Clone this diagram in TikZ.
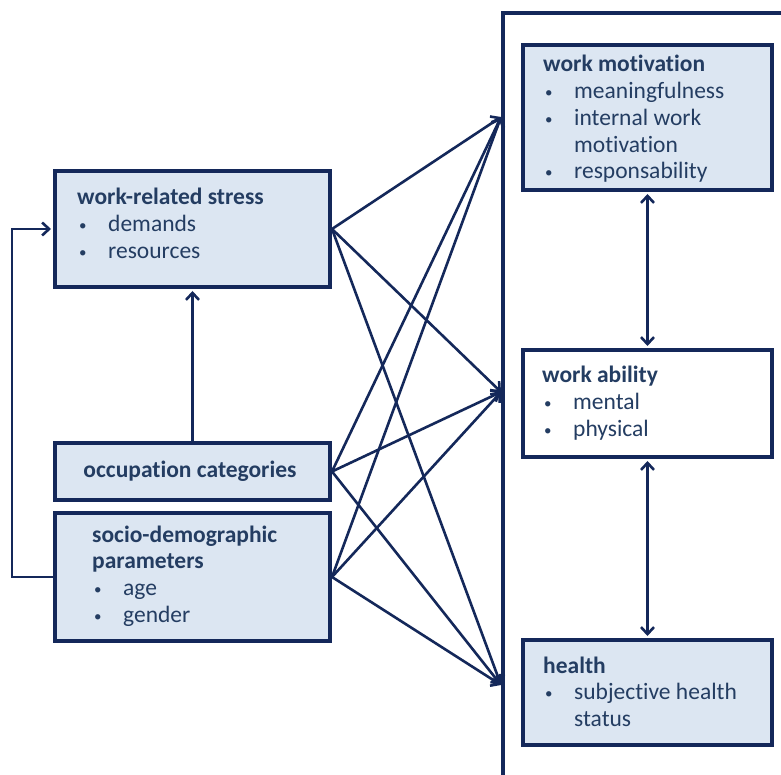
\documentclass[tikz,border=0pt]{standalone}
\usepackage{fontspec}
\setmainfont{Carlito}[Ligatures={NoCommon}]
\usetikzlibrary{arrows.meta}
\definecolor{navy}{HTML}{14285A}
\definecolor{txtc}{HTML}{243D62}
\definecolor{boxfill}{HTML}{DCE6F2}
\newcommand\bitem[1]{\makebox[31pt][l]{\hspace{2pt}\raisebox{1pt}{\fontsize{15}{0}\selectfont\textbullet}}#1}
\begin{document}
\begin{tikzpicture}[x=1pt,y=1pt,
  box/.style={draw=navy, line width=4pt, fill=boxfill, inner sep=0pt},
  lbl/.style={anchor=base west, inner sep=0pt, text=txtc, font=\fontsize{23.5}{26.7}\selectfont},
  arr/.style={draw=navy, line width=2.6pt, -{Straight Barb[length=7pt,width=13pt]}},
  darr/.style={draw=navy, line width=2.6pt, {Straight Barb[length=7pt,width=13pt]}-{Straight Barb[length=7pt,width=13pt]}}]
\useasboundingbox (0,0) rectangle (781,774);
\fill[white] (0,0) rectangle (781,774);
% frame
\coordinate (fb) at (503,-10);
\coordinate (ftl) at (503,761);
\coordinate (fr) at (800,761);
\draw[navy, line width=3.5pt] (fb) -- (ftl) -- (fr);
% boxes
\node[box, minimum width=275pt, minimum height=116pt] (stress) at (192.5,545) {};
\node[box, minimum width=275pt, minimum height=57pt] (occ) at (192.5,302.5) {};
\node[box, minimum width=275pt, minimum height=128pt] (socio) at (192.5,197) {};
\node[box, minimum width=249pt, minimum height=145pt] (wm) at (647.5,656.5) {};
\node[box, fill=white, minimum width=249pt, minimum height=107pt] (wa) at (647.5,370.5) {};
\node[box, minimum width=249pt, minimum height=105pt] (health) at (647.5,81.5) {};
% texts
\node[lbl] (stressT) at (77,569) {\parbox[t]{240pt}{\textbf{work-related stress}\\\bitem{demands}\\\bitem{resources}}};
\node[lbl, anchor=base] (occT) at (190,296) {\textbf{occupation categories}};
\node[lbl] (socioT) at (92,232) {\parbox[t]{230pt}{\textbf{socio-demographic}\\\textbf{parameters}\\\bitem{age}\\\bitem{gender}}};
\node[lbl] (wmT) at (543,702) {\parbox[t]{225pt}{\textbf{work motivation}\\\bitem{meaningfulness}\\\bitem{internal work}\\\hspace*{31pt}motivation\\\bitem{responsability}}};
\node[lbl] (waT) at (542,391) {\parbox[t]{225pt}{\textbf{work ability}\\\bitem{mental}\\\bitem{physical}}};
\node[lbl] (healthT) at (543,101) {\parbox[t]{225pt}{\textbf{health}\\\bitem{subjective health}\\\hspace*{31pt}status}};
% targets on frame
\coordinate (tWM) at (501,657);
\coordinate (tWA) at (501,382);
\coordinate (tH) at (501,89);
% arrows to frame
\foreach \s in {stress,occ,socio}{
  \draw[arr] (\s.east) -- (tWM);
  \draw[arr] (\s.east) -- (tWA);
  \draw[arr] (\s.east) -- (tH);
}
% vertical arrow
\draw[arr, shorten >=2pt] (occ.north) -- (stress.south);
% feedback loop
\coordinate (fbL) at (12,197);
\coordinate (fbT) at (12,545);
\draw[arr, shorten >=2pt] (socio.west) -- (fbL) -- (fbT) -- (stress.west);
% double arrows
\draw[darr, shorten >=2pt, shorten <=2pt] (wm.south) -- (wa.north);
\draw[darr, shorten >=2pt, shorten <=2pt] (wa.south) -- (health.north);
\end{tikzpicture}
\end{document}
